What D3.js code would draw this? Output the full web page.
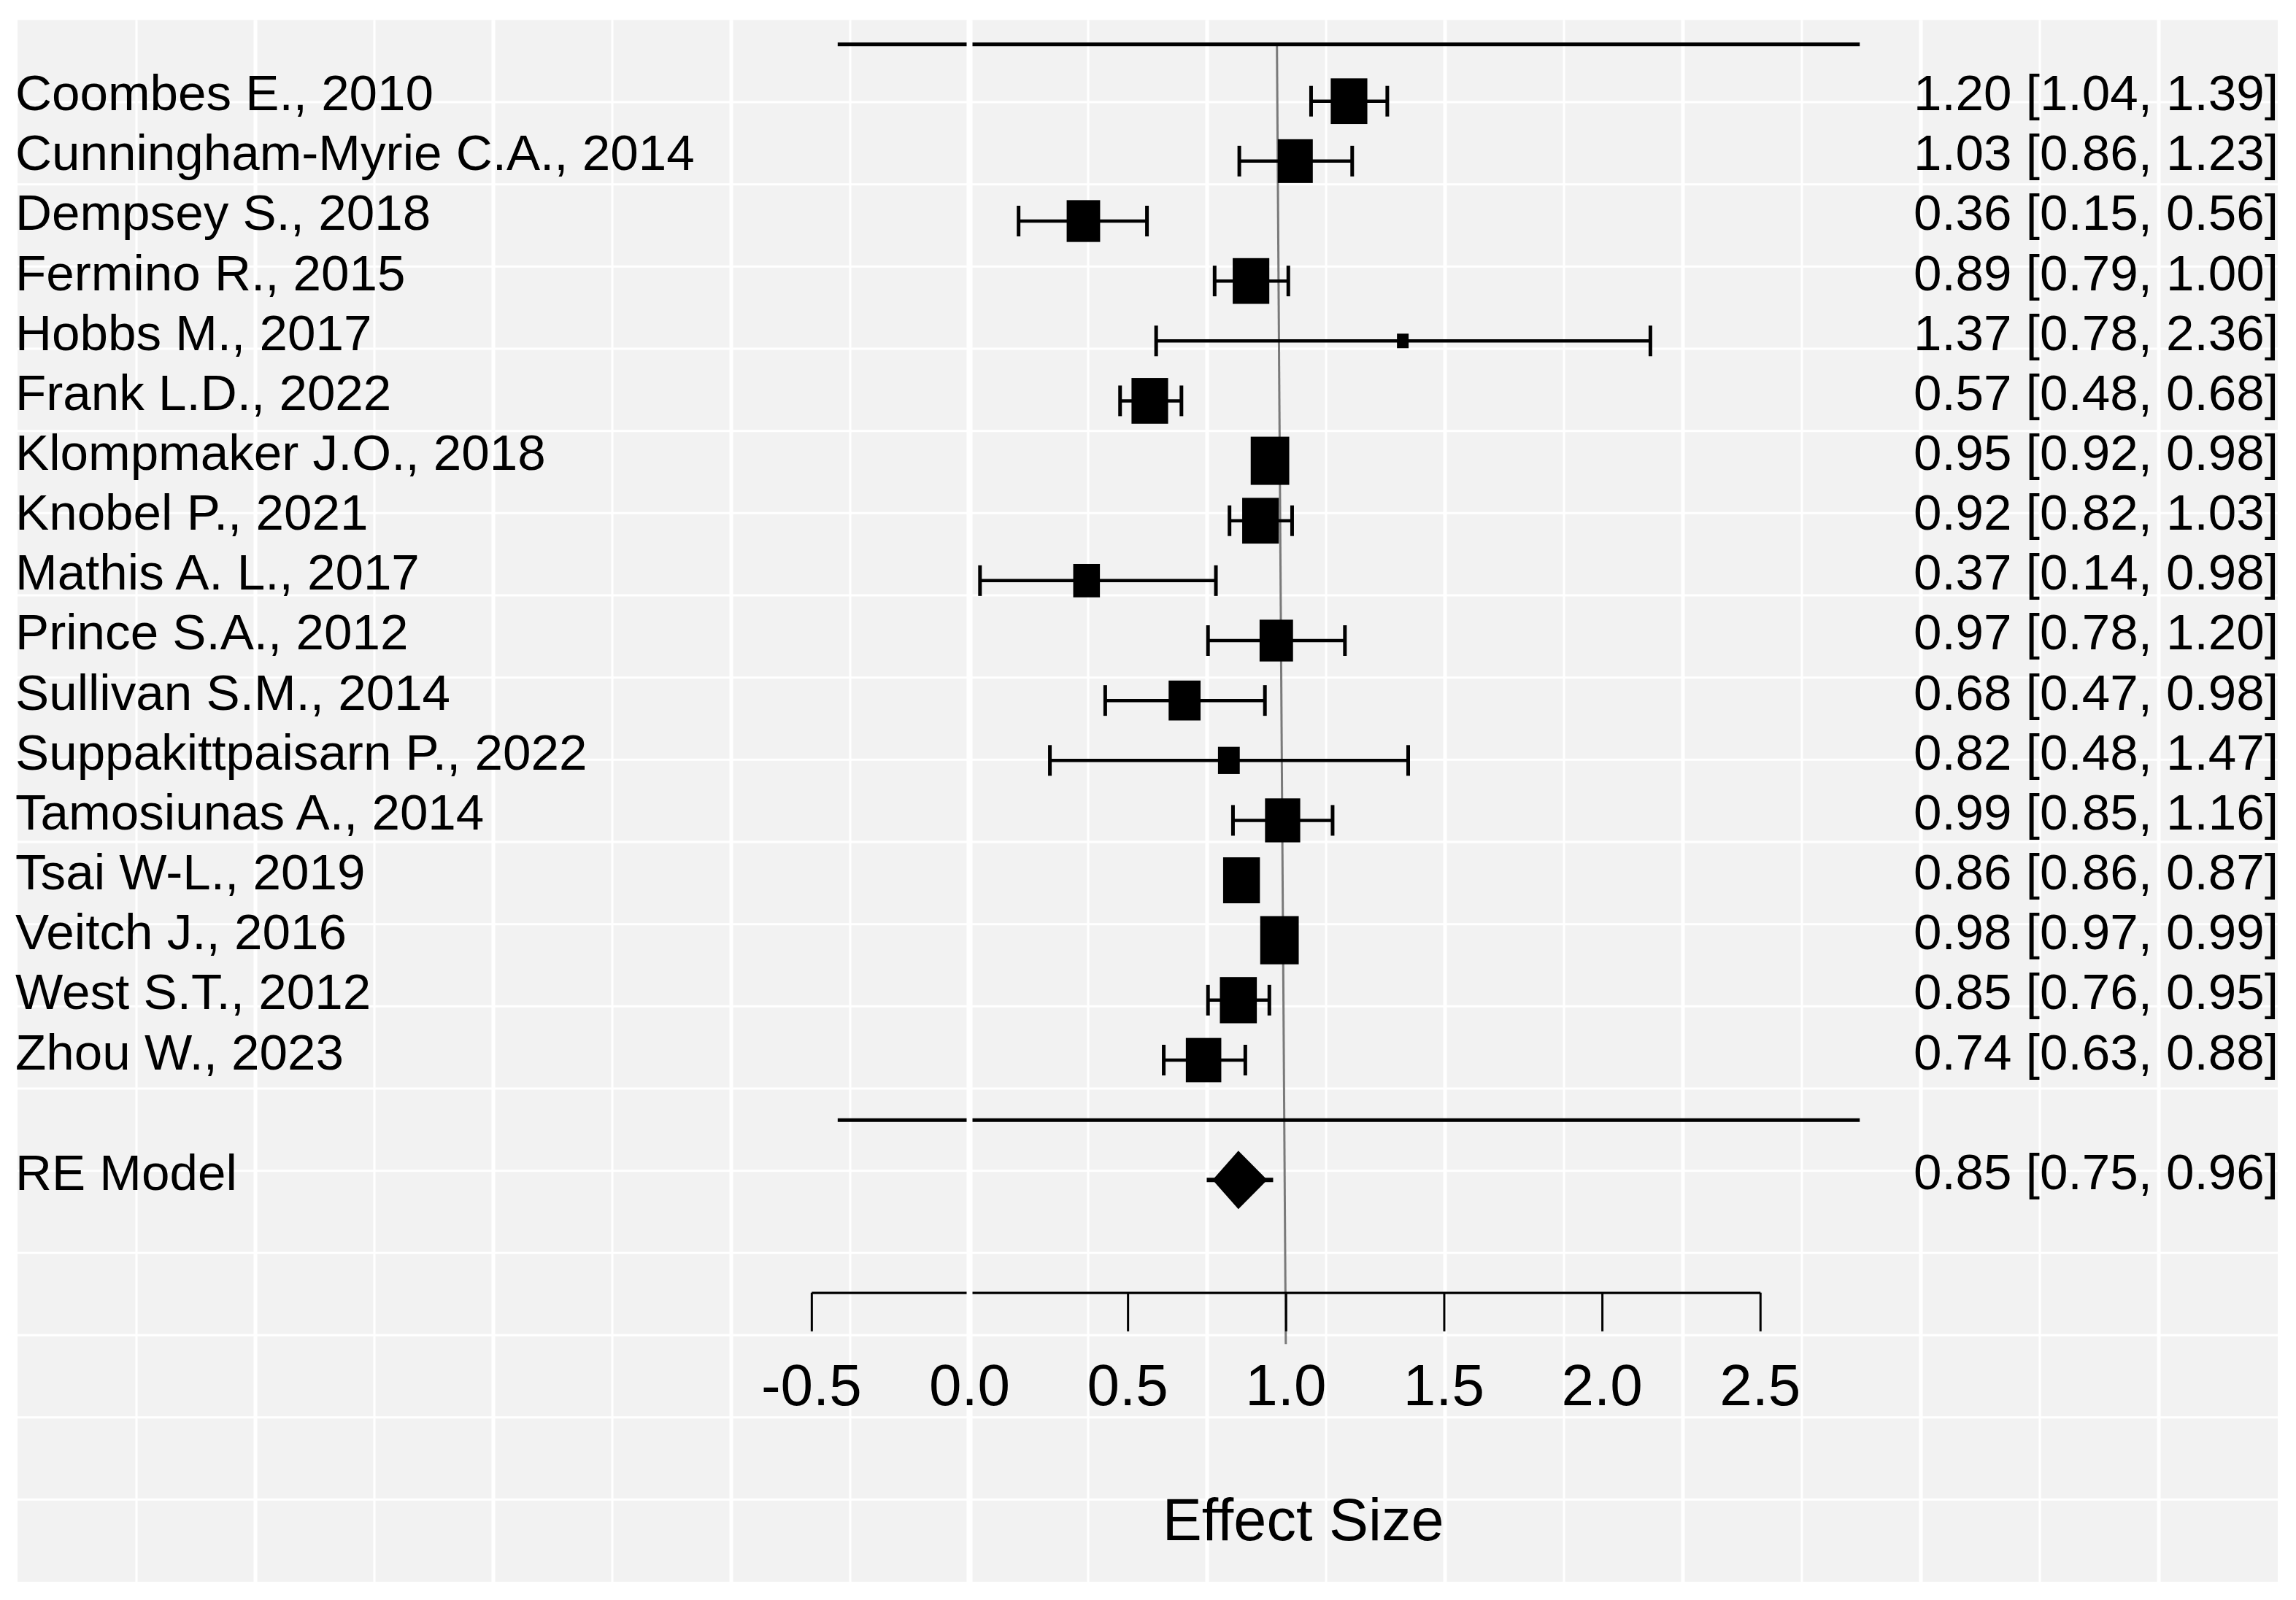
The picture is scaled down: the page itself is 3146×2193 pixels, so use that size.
<!DOCTYPE html>
<html>
<head>
<meta charset="utf-8">
<script src="https://cdn.jsdelivr.net/npm/d3@7"></script>
<style>
  body { margin: 0; background: #fff; }
  text { font-family: "Liberation Sans", Arial, sans-serif; fill: #000; }
</style>
</head>
<body>
<svg id="chart"></svg>
<script>
// study labels, top to bottom
const studies = ["Coombes E., 2010", "Cunningham-Myrie C.A., 2014", "Dempsey S., 2018",
  "Fermino R., 2015", "Hobbs M., 2017", "Frank L.D., 2022", "Klompmaker J.O., 2018",
  "Knobel P., 2021", "Mathis A. L., 2017", "Prince S.A., 2012", "Sullivan S.M., 2014",
  "Suppakittpaisarn P., 2022", "Tamosiunas A., 2014", "Tsai W-L., 2019", "Veitch J., 2016",
  "West S.T., 2012", "Zhou W., 2023"];

// estimates and printed intervals (right column)
const est   = [1.20, 1.03, 0.36, 0.89, 1.37, 0.57, 0.95, 0.92, 0.37, 0.97, 0.68, 0.82, 0.99, 0.86, 0.98, 0.85, 0.74];
const annLo = [1.04, 0.86, 0.15, 0.79, 0.78, 0.48, 0.92, 0.82, 0.14, 0.78, 0.47, 0.48, 0.85, 0.86, 0.97, 0.76, 0.63];
const annHi = [1.39, 1.23, 0.56, 1.00, 2.36, 0.68, 0.98, 1.03, 0.98, 1.20, 0.98, 1.47, 1.16, 0.87, 0.99, 0.95, 0.88];

// whisker ends as drawn in the plot
const ciLo = [1.08, 0.853, 0.155, 0.775, 0.59, 0.476, 0.92, 0.822, 0.033, 0.754, 0.429, 0.254, 0.833, 0.86, 0.97, 0.754, 0.614];
const ciHi = [1.321, 1.21, 0.561, 1.008, 2.153, 0.67, 0.98, 1.02, 0.779, 1.187, 0.934, 1.387, 1.148, 0.87, 0.99, 0.948, 0.872];

// study weights (%), set the square size
const weights = [6.92, 6.34, 5.78, 6.92, 0.70, 6.92, 7.67, 6.92, 3.68, 5.78, 5.27, 2.45, 6.40, 6.99, 7.67, 7.06, 6.49];

// random-effects summary
const reLabel = "RE Model";
const reEst = 0.85, reLo = 0.75, reHi = 0.96;

const xTicks = [-0.5, 0.0, 0.5, 1.0, 1.5, 2.0, 2.5];
const xTitle = "Effect Size";

const W = 3146, H = 2193;
const svg = d3.select('#chart').attr('width', W).attr('height', H);

const x = d3.scaleLinear().domain([-0.5, 2.5]).range([1111.85, 2411.75]);
const y = d3.scaleLinear().domain([17, 1]).range([138.7, 1453]);
const size = d3.scaleSqrt().domain([0, 7.67]).range([0, 66]);
const fmt = v => v.toFixed(2);

// background panel + grid
const panel = {l: 24, t: 27.3, r: 3121, b: 2168};
svg.append('rect')
  .attr('x', panel.l).attr('y', panel.t)
  .attr('width', panel.r - panel.l).attr('height', panel.b - panel.t)
  .attr('fill', '#f2f2f2');

const grid = svg.append('g');
d3.range(1, 19).forEach(k => {
  let gx = panel.l + k * 163;
  grid.append('line')
    .attr('x1', gx).attr('x2', gx).attr('y1', panel.t).attr('y2', panel.b)
    .attr('stroke', '#fff').attr('stroke-width', k % 2 === 0 ? 5 : 3);
});
d3.range(1, 19).forEach(j => {
  let gy = panel.t + j * 112.67;
  grid.append('line')
    .attr('x1', panel.l).attr('x2', panel.r).attr('y1', gy).attr('y2', gy)
    .attr('stroke', '#fff').attr('stroke-width', 3);
});

const plot = svg.append('g');

// reference line
plot.append('line')
  .attr('x1', x(0.972)).attr('y1', y(17.95))
  .attr('x2', x(1.0)).attr('y2', y(-3.74))
  .attr('stroke', '#7a7a7a').attr('stroke-width', 3);

// separator lines
const lineSpan = [-0.417, 2.815];
[17.95, 0].forEach(r => {
  plot.append('line')
    .attr('x1', x(lineSpan[0])).attr('x2', x(lineSpan[1]))
    .attr('y1', y(r)).attr('y2', y(r))
    .attr('stroke', '#000').attr('stroke-width', 5);
});

const rows = studies.map((s, i) => ({
  label: s, row: 17 - i, est: est[i], lo: ciLo[i], hi: ciHi[i],
  annLo: annLo[i], annHi: annHi[i], w: weights[i]
}));

// whiskers
plot.selectAll('.ci').data(rows).join('line')
  .attr('x1', d => x(d.lo)).attr('x2', d => x(d.hi))
  .attr('y1', d => y(d.row)).attr('y2', d => y(d.row))
  .attr('stroke', '#000').attr('stroke-width', 4.5);

['lo', 'hi'].forEach(end => {
  plot.selectAll('.cap-' + end).data(rows).join('line')
    .attr('x1', d => x(d[end])).attr('x2', d => x(d[end]))
    .attr('y1', d => y(d.row) - 21).attr('y2', d => y(d.row) + 21)
    .attr('stroke', '#000').attr('stroke-width', 5);
});

// squares
plot.selectAll('.sq').data(rows).join('rect')
  .attr('x', d => x(d.est) - size(d.w) * 0.4)
  .attr('y', d => y(d.row) - size(d.w) / 2)
  .attr('width', d => size(d.w) * 0.8)
  .attr('height', d => size(d.w))
  .attr('fill', '#000');

// summary diamond
const yRe = y(-1);
plot.append('line')
  .attr('x1', x(reLo)).attr('x2', x(reHi)).attr('y1', yRe).attr('y2', yRe)
  .attr('stroke', '#000').attr('stroke-width', 6);
plot.append('path')
  .attr('d', d3.line()([[x(reLo) + 8, yRe], [x(reEst), yRe - 40], [x(reHi) - 8, yRe], [x(reEst), yRe + 40]]) + 'Z')
  .attr('fill', '#000');

// x axis line and ticks (labels drawn later, above the zero line)
const axisY = y(-2.88);
const axis = svg.append('g')
  .attr('transform', `translate(0,${axisY})`)
  .call(d3.axisBottom(x).tickValues(xTicks).tickSize(53).tickSizeOuter(0).tickFormat(''));
axis.select('.domain').attr('stroke', '#000').attr('stroke-width', 3.3);
axis.selectAll('.tick line').attr('stroke', '#000').attr('stroke-width', 3);

// white line at zero drawn over the plot
svg.append('line')
  .attr('x1', x(0)).attr('x2', x(0)).attr('y1', panel.t).attr('y2', panel.b)
  .attr('stroke', '#fff').attr('stroke-width', 8);

// text columns
const texts = svg.append('g').style('font-size', '69.2px');
texts.selectAll('.lab').data(rows).join('text')
  .attr('x', 21).attr('y', d => y(d.row) + 12.5)
  .text(d => d.label);
texts.selectAll('.ann').data(rows).join('text')
  .attr('x', 3122).attr('y', d => y(d.row) + 12.5)
  .attr('text-anchor', 'end')
  .text(d => `${fmt(d.est)} [${fmt(d.annLo)}, ${fmt(d.annHi)}]`);
texts.append('text').attr('x', 21).attr('y', yRe + 14).text(reLabel);
texts.append('text').attr('x', 3122).attr('y', yRe + 12.5)
  .attr('text-anchor', 'end')
  .text(`${fmt(reEst)} [${fmt(reLo)}, ${fmt(reHi)}]`);

// tick labels
svg.append('g').selectAll('text').data(xTicks).join('text')
  .attr('x', d => x(d)).attr('y', 1926)
  .attr('text-anchor', 'middle').style('font-size', '80px')
  .text(d => d.toFixed(1));

svg.append('text')
  .attr('x', x(1.055)).attr('y', 2111)
  .attr('text-anchor', 'middle').style('font-size', '81px')
  .text(xTitle);
</script>
</body>
</html>
